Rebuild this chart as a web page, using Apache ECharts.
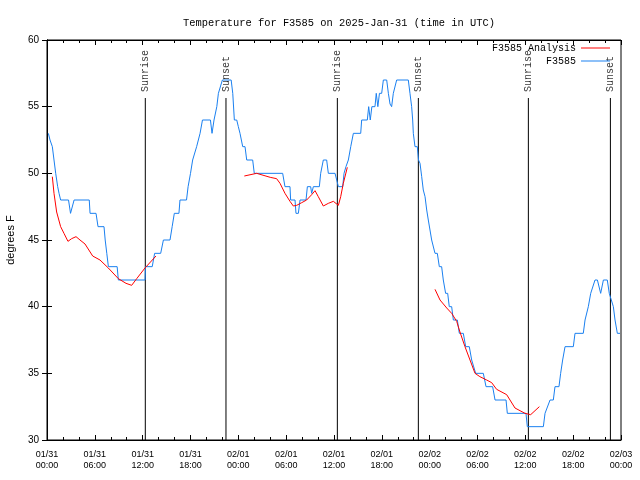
<!DOCTYPE html>
<html>
<head>
<meta charset="utf-8">
<script src="https://cdn.jsdelivr.net/npm/echarts@6/dist/echarts.min.js"></script>
<style>html,body{margin:0;padding:0;background:#fff;}#c{width:640px;height:480px;}</style>
</head>
<body>
<div id="c"></div>
<script>
// ---- data ----
const xTickLabels = ['01/31\n00:00','01/31\n06:00','01/31\n12:00','01/31\n18:00','02/01\n00:00','02/01\n06:00','02/01\n12:00','02/01\n18:00','02/02\n00:00','02/02\n06:00','02/02\n12:00','02/02\n18:00','02/03\n00:00'];

// hours since 01/31 00:00 UTC
const obsHours = [0.17,0.38,0.67,0.88,1.09,1.34,1.51,1.71,2.7,2.95,3.15,3.4,5.3,5.4,6.15,6.4,7.15,7.3,7.5,7.7,8.8,8.95,12.3,
  12.35,13.2,13.5,14.26,14.6,15.43,15.7,15.97,16.55,16.68,17.5,17.7,18.0,18.27,18.77,19.2,19.5,20.5,20.7,20.95,21.3,21.5,22.0,23.1,
  23.3,23.5,23.8,24.0,24.21,24.55,24.84,25.05,25.8,26.0,29.56,29.85,30.48,30.56,31.11,31.23,31.53,31.74,32.49,32.66,33.07,33.2,33.41,
  34.16,34.33,34.66,35.08,35.29,36.13,36.34,36.55,37.09,37.26,37.5,37.8,38.1,38.43,39.35,39.47,40.18,40.35,40.55,40.75,
  41.0,41.14,41.3,41.5,41.7,41.98,42.19,42.61,42.82,43.03,43.23,43.44,43.86,45.32,45.53,45.74,45.87,45.95,46.16,46.45,
  46.6,46.79,47.0,47.2,47.42,47.63,47.83,48.04,48.25,48.46,48.67,48.96,49.21,49.5,49.71,49.92,50.0,50.26,50.46,50.76,50.97,51.47,
  51.72,52.22,52.52,52.97,53.27,53.48,53.77,54.73,55.07,55.57,55.7,55.9,56.2,57.58,57.74,60.08,60.25,62.26,62.47,63.1,63.51,63.72,
  64.22,64.43,64.68,64.98,66.02,66.23,67.27,67.49,67.7,67.9,68.2,68.74,69.04,69.45,69.79,70.28,70.53,71.04,71.25,71.54,71.88];
const obsTemps = [53,52.5,52,51,50,49,48.5,48,48,47,47,48,48,47,47,46,46,45,44,43,43,42,42,
  43,43,44,44,45,45,46,47,47,48,48,49,50,51,52,53,54,54,53,54,55,56,57,57,
  56,54,54,53.5,53,52,52,51,51,50,50,49,49,48,48,47,47,48,48,49,49,48.5,49,
  49,50,51,51,50,50,49.5,49,49,50,50.5,51,52,53,53,54,54,55,54,55,
  55,55,56,55,56,56,57,57,56,55.2,55,56,57,57,56,55,54,53,52,52,
  51,50.75,49.75,48.75,48.25,47.25,46.5,45.75,45,45,44,44,43,43,42,42,41,41,40,40,39,39,
  38,38,37,37,36,36,35,35,34,34,34.1,34,33,33,32,32,31,31,32,33,33,34,
  34,35,36,37,37,38,38,39,39,40,41,42,42,41,42,42,41,40,39,38,38];

// analysis (null = gap between runs)
const anaHours = [0.67,0.88,1.21,1.71,2.13,2.63,3.09,3.64,4.14,4.77,5.73,6.65,7.69,8.95,9.91,10.62,11.25,12.29,13.67,13.7,
  24.75,26.3,28.0,28.8,29.23,29.85,30.48,30.9,31.32,31.95,32.57,33.2,33.62,34.03,34.66,35.29,35.92,36.55,36.84,37.17,37.67,37.7,
  48.67,49.3,50.14,50.76,51.39,51.8,52.43,53.06,53.69,54.3,55.15,55.78,56.4,57.66,58.7,59.96,60.67,61.76];
const anaTemps = [49.75,48.5,47.1,46,45.5,44.9,45.1,45.25,45,44.7,43.8,43.5,42.9,42.1,41.75,41.6,42.1,42.9,43.8,null,
  49.8,50.0,49.7,49.6,49.25,48.5,47.9,47.55,47.6,47.8,48.0,48.4,48.7,48.25,47.55,47.75,47.9,47.6,48.25,49.25,50.45,null,
  41.3,40.5,39.9,39.5,38.9,38.1,37,36,35,34.75,34.5,34.3,33.8,33.4,32.4,32,31.9,32.5];

const sunHours = [12.33, 22.45, 36.42, 46.58, 60.38, 70.67];
const sunLabels = ['Sunrise','Sunset','Sunrise','Sunset','Sunrise','Sunset'];
const sunTop = 55.65;
const yMin = 30, yMax = 60;

// ---- build ----
const obsData = obsHours.map((h, i) => [h, obsTemps[i]]);
const anaData = anaHours.map((h, i) => [h, anaTemps[i] === null ? '-' : anaTemps[i]]);
const sunLineData = [];
sunHours.forEach(h => { sunLineData.push([h, yMin], [h, sunTop], [h, '-']); });
const sunLabelData = sunHours.map((h, i) => ({ value: [h, sunTop], name: sunLabels[i] }));

const mono = 'Liberation Mono';
const sans = 'Liberation Sans';
const lineIcon = 'path://M0,0H29V1H0Z';
const chart = echarts.init(document.getElementById('c'), null, { renderer: 'canvas' });
const tickCommon = { show: true, inside: true, length: 5, lineStyle: { color: '#000', width: 1 } };
chart.setOption({
  animation: false,
  backgroundColor: '#fff',
  title: {
    text: 'Temperature for F3585 on 2025-Jan-31 (time in UTC)',
    left: 334, top: 13, textAlign: 'center',
    textStyle: { fontFamily: mono, fontSize: 10.4, fontWeight: 'normal', color: '#000' }
  },
  legend: {
    data: [{ name: 'F3585 Analysis', icon: lineIcon }, { name: 'F3585', icon: lineIcon }],
    orient: 'vertical', align: 'right', right: 25, top: 38,
    itemWidth: 29, itemHeight: 10, itemGap: 3, symbolKeepAspect: true,
    textStyle: { fontFamily: mono, fontSize: 10, color: '#000' }
  },
  grid: { left: 47, right: 19, top: 40, bottom: 40, outerBoundsMode: 'none', containLabel: false,
    show: true, borderColor: '#000', borderWidth: 1, backgroundColor: 'transparent' },
  xAxis: [{
    type: 'value', min: 0, max: 72, interval: 6, position: 'bottom',
    axisLine: { show: true, lineStyle: { color: '#000' } },
    axisTick: tickCommon,
    minorTick: { show: true, splitNumber: 3, length: 3, lineStyle: { color: '#000' } },
    splitLine: { show: false },
    axisLabel: { margin: 9, lineHeight: 11, fontFamily: sans, fontSize: 9, color: '#000',
      formatter: v => xTickLabels[Math.round(v / 6)] }
  }, {
    type: 'value', min: 0, max: 72, interval: 6, position: 'top',
    axisLine: { show: true, lineStyle: { color: '#000' } },
    axisTick: tickCommon,
    minorTick: { show: true, splitNumber: 3, length: 3, lineStyle: { color: '#000' } },
    splitLine: { show: false }, axisLabel: { show: false }
  }],
  yAxis: [{
    type: 'value', min: yMin, max: yMax, interval: 5, position: 'left',
    name: 'degrees F', nameLocation: 'middle', nameGap: 31, nameRotate: 90,
    nameTextStyle: { fontFamily: sans, fontSize: 11, color: '#000' },
    axisLine: { show: true, lineStyle: { color: '#000' } },
    axisTick: tickCommon,
    splitLine: { show: false },
    axisLabel: { margin: 8, fontFamily: sans, fontSize: 10, color: '#000' }
  }, {
    type: 'value', min: yMin, max: yMax, interval: 5, position: 'right',
    axisLine: { show: true, lineStyle: { color: '#000' } },
    axisTick: tickCommon,
    splitLine: { show: false }, axisLabel: { show: false }
  }],
  series: [{
    name: 'sun', type: 'line', data: sunLineData, showSymbol: false, symbol: 'none',
    lineStyle: { color: '#000', width: 1 }, connectNulls: false, silent: true, z: 1
  }, {
    name: 'sunLabels', type: 'scatter', data: sunLabelData, symbolSize: 0, silent: true, z: 3,
    label: { show: true, formatter: p => p.name, position: 'top', distance: 6, rotate: 90,
      align: 'left', verticalAlign: 'middle', fontFamily: mono, fontSize: 10, color: '#000' }
  }, {
    name: 'F3585', type: 'line', data: obsData, showSymbol: false, symbol: 'none',
    lineStyle: { color: '#1a80f0', width: 1 }, itemStyle: { color: '#1a80f0' }, z: 4
  }, {
    name: 'F3585 Analysis', type: 'line', data: anaData, showSymbol: false, symbol: 'none', connectNulls: false,
    lineStyle: { color: '#ff0000', width: 1 }, itemStyle: { color: '#ff0000' }, z: 5
  }]
});
</script>
</body>
</html>
